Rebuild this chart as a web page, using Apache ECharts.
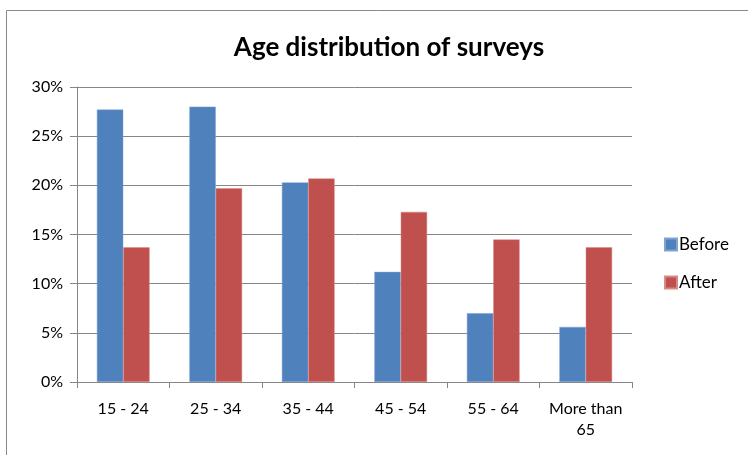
<!DOCTYPE html>
<html><head><meta charset="utf-8">
<script src="https://cdn.jsdelivr.net/npm/echarts@6/dist/echarts.min.js"></script>
<style>html,body{margin:0;padding:0;background:#fff}#c{width:748px;height:455px}</style>
</head><body><div id="c"></div>
<script>
const categories = ['15 - 24', '25 - 34', '35 - 44', '45 - 54', '55 - 64', 'More than\n65'];
const beforeValues = [27.7, 28.0, 20.3, 11.2, 7.0, 5.6];
const afterValues = [13.7, 19.7, 20.7, 17.3, 14.5, 13.7];
const yTicks = [0, 5, 10, 15, 20, 25, 30];

const font = 'Lato, "Open Sans", sans-serif';
const chart = echarts.init(document.getElementById('c'));
chart.setOption({
  animation: false,
  title: { text: 'Age distribution of surveys', left: 384, top: 30, textAlign: 'center',
    textStyle: { fontFamily: font, fontSize: 26, fontWeight: 'bold', color: '#000' } },
  graphic: [{ type: 'rect', shape: { x: 6.5, y: 10.5, width: 800, height: 500 },
    style: { fill: 'none', stroke: '#8a8a8a', lineWidth: 1 }, silent: true }],
  legend: { orient: 'vertical', left: 659, top: 231, icon: 'rect', itemWidth: 12, itemHeight: 12, itemGap: 21,
    textStyle: { fontFamily: font, fontSize: 17, color: '#000', padding: [0, 0, 0, -3] },
    data: ['Before', 'After'] },
  grid: { left: 77, right: 116, top: 87, bottom: 73, containLabel: false },
  xAxis: { type: 'category', data: categories,
    axisLine: { lineStyle: { color: '#868686' } },
    axisTick: { show: true, length: 6, lineStyle: { color: '#868686' } },
    axisLabel: { interval: 0, fontFamily: font, fontSize: 16, color: '#000', margin: 16, lineHeight: 21 } },
  yAxis: { type: 'value', min: 0, max: 30, interval: 5,
    axisLine: { show: true, lineStyle: { color: '#868686' } },
    axisTick: { show: true, length: 7, lineStyle: { color: '#868686' } },
    splitLine: { lineStyle: { color: '#868686' } },
    axisLabel: { fontFamily: font, fontSize: 16, color: '#000', margin: 14,
      formatter: v => yTicks.includes(v) ? v + '%' : '' } },
  series: [
    { name: 'Before', type: 'bar', data: beforeValues, barGap: '0%', barCategoryGap: '43%',
      itemStyle: { color: '#4F81BD', borderColor: '#7fa3d3', borderWidth: 0.5 } },
    { name: 'After', type: 'bar', data: afterValues,
      itemStyle: { color: '#C0504D', borderColor: '#d98a88', borderWidth: 0.5 } }
  ]
});
</script></body></html>
